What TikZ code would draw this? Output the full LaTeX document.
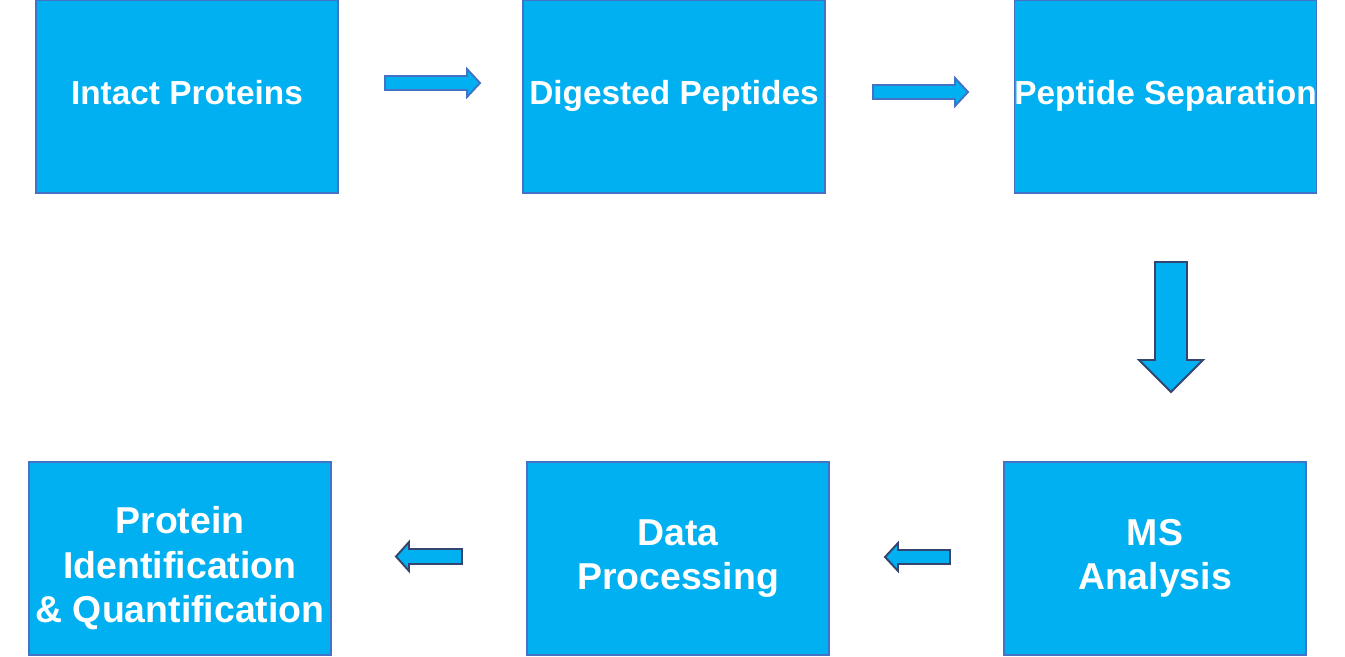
\documentclass[tikz,border=0pt]{standalone}
\usepackage{fontspec}
\setmainfont{Liberation Sans}
\usetikzlibrary{positioning}
\definecolor{boxfill}{HTML}{00B0F0}
\definecolor{boxline}{HTML}{4472C4}
\definecolor{darkline}{HTML}{34466F}
\tikzset{
  stagetext/.style={inner sep=0pt,align=center,text=white,font=\fontsize{21.3}{25.3}\selectfont\bfseries},
  stage/.style={stagetext,draw=boxline,fill=boxfill,line width=0.8pt,minimum width=6.04cm,minimum height=3.86cm},
  topstage/.style={stage,font=\fontsize{19}{23}\selectfont\bfseries,text depth=5pt},
  barrow/.style={draw=#1,fill=boxfill,line width=1.1pt,line join=miter},
  barrow/.default=boxline
}
\begin{document}
\begin{tikzpicture}[x=0.02cm,y=-0.02cm]
  \useasboundingbox (0,0) rectangle (1345,656);
  % top row
  \node[topstage] (intact) at (187,96.5) {Intact Proteins};
  \node[topstage] (digest) at (674,96.5) {Digested Peptides};
  \node[topstage] (separ) at (1165.5,96.5) {Peptide Separation};
  % bottom row
  \node[stage] (msan) at (1155,558.5) {MS\\Analysis};
  \node[stage] (dproc) at (678,558.5) {Data\\Processing};
  \node[stage] (protid) at (180,558.5) {};
  \node[stagetext] (protidtxt) at ([yshift=-5.5pt]protid.center) {Protein\\Identification\\\&~Quantification};
  % block arrows between the stages
  \draw[barrow] (385,76) -- (467,76) -- (467,69) -- (480,83) -- (467,97) -- (467,90) -- (385,90) -- cycle;
  \draw[barrow] (873,85) -- (955,85) -- (955,78) -- (968,92) -- (955,106) -- (955,99) -- (873,99) -- cycle;
  \draw[barrow=darkline] (1155,262) -- (1187,262) -- (1187,360) -- (1203,360) -- (1171,392) -- (1139,360) -- (1155,360) -- cycle;
  \draw[barrow=darkline] (950,550) -- (898,550) -- (898,543) -- (885,557) -- (898,571) -- (898,564) -- (950,564) -- cycle;
  \draw[barrow=darkline] (462,549) -- (409,549) -- (409,542) -- (396,556.5) -- (409,571) -- (409,564) -- (462,564) -- cycle;
\end{tikzpicture}
\end{document}
